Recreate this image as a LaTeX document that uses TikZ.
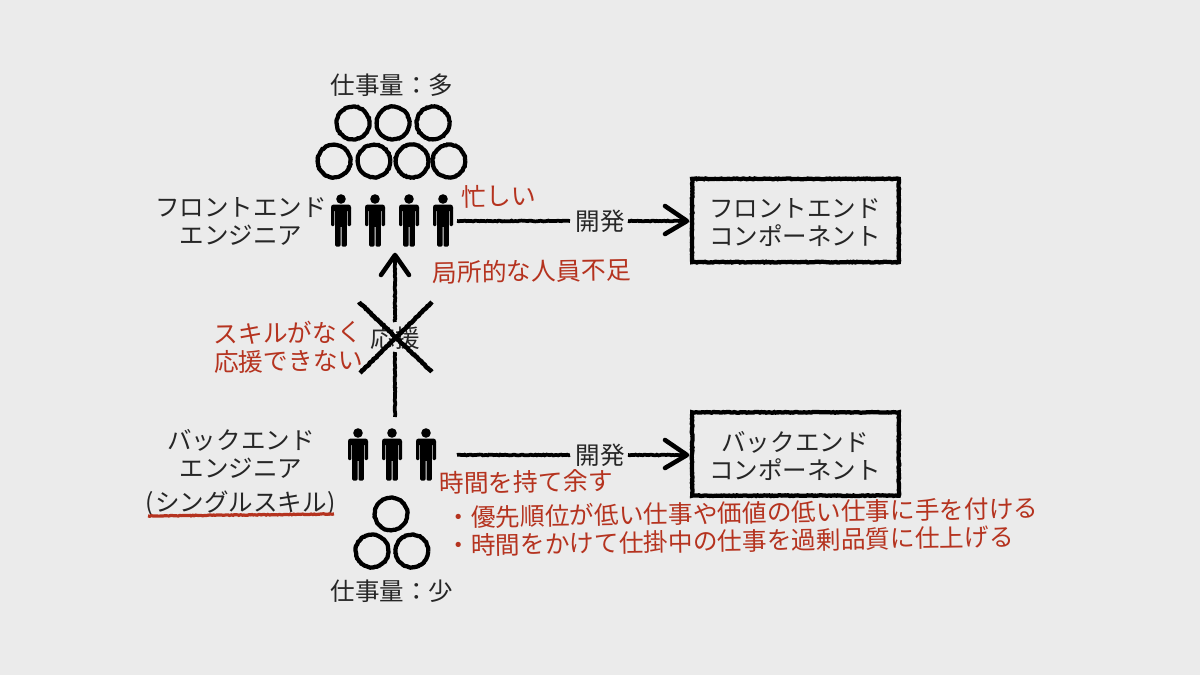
\documentclass[tikz,border=0pt]{standalone}
\usepackage{fontspec}
\newfontfamily\cjk{Noto Sans CJK JP}
\usetikzlibrary{decorations.pathmorphing,calc}
\definecolor{bgc}{HTML}{EBEBEB}
\definecolor{redc}{HTML}{B5331F}
\definecolor{inkc}{HTML}{262626}
\pgfmathsetseed{42}
\tikzset{
  rough/.style={draw=black,line width=2.8pt,decorate,decoration={random steps,segment length=1.2pt,amplitude=0.3pt}},
  smooth stroke/.style={draw=black,line width=3.4pt,line cap=round,line join=round},
  label text/.style={inner sep=0pt,text=inkc,align=center,font=\cjk\fontsize{18.4}{21}\selectfont},
  red text/.style={inner sep=0pt,text=redc,align=center,rotate=1,font=\cjk\fontsize{18.6}{21}\selectfont},
  list text/.style={inner sep=0pt,text=redc,align=left,rotate=0.9,font=\cjk\fontsize{18.5}{21}\selectfont},
  personbox/.style={inner sep=0pt,outer sep=2pt,minimum width=15pt,minimum height=39pt},
  workbox/.style={draw=black,line width=3.2pt,inner sep=0pt,minimum width=155pt,minimum height=62.5pt,
    decorate,decoration={random steps,segment length=1.2pt,amplitude=0.3pt}},
  workcircle/.style={circle,draw=black,line width=3.2pt,inner sep=0pt,minimum size=24.5pt,
    decorate,decoration={random steps,segment length=1.2pt,amplitude=0.3pt}}
}
\newcommand{\drawperson}[3]{%
  \node[personbox] (#1) at (#2,#3) {};
  \begin{scope}[shift={(#2,#3)}]
    \fill (0,-21) circle[radius=4.8];
    \fill[rounded corners=2pt] (-10,-15.5) rectangle (10,-9);
    \fill[rounded corners=0.8pt] (-10,-13) rectangle (-6.6,6);
    \fill[rounded corners=0.8pt] (6.6,-13) rectangle (10,6);
    \fill (-5.8,-13) rectangle (5.8,7);
    \fill[rounded corners=0.8pt] (-5.8,5) rectangle (-0.5,26.5);
    \fill[rounded corners=0.8pt] (0.5,5) rectangle (5.8,26.5);
  \end{scope}}
\begin{document}
\begin{tikzpicture}[x=0.75pt,y=-0.75pt]
\fill[bgc] (0,0) rectangle (1200,675);
\useasboundingbox (0,0) rectangle (1200,675);

% workload circles
\foreach \n/\x/\y in {a/353/123,b/393/123,c/433/123,d/334/161,e/374/161,f/412/161,g/449/161}
  \node[workcircle] (fc\n) at (\x,\y) {};
\foreach \n/\x/\y in {a/391/514,b/372/551,c/412/551}
  \node[workcircle] (bc\n) at (\x,\y) {};

% people
\drawperson{fpa}{341}{220}
\drawperson{fpb}{375}{220}
\drawperson{fpc}{409}{220}
\drawperson{fpd}{443}{220}
\drawperson{bpa}{358}{454}
\drawperson{bpb}{392}{454}
\drawperson{bpc}{426}{454}

% labels
\node[label text] (fload) at (392,85) {仕事量：多};
\node[label text] (bload) at (392,591) {仕事量：少};
\node[label text] (fteam) at (241,221.5) {フロントエンド\\エンジニア};
\node[label text] (bteam) at (241,473) {バックエンド\\エンジニア\\[4pt](\kern0.7pt シングルスキル\kern0.7pt)};

% component boxes
\node[workbox] (fbox) at (795.5,220.5) {};
\node[label text] (ftext) at (795,223) {フロントエンド\\コンポーネント};
\node[workbox] (bbox) at (795.5,454) {};
\node[label text] (btext) at (795,456) {バックエンド\\コンポーネント};

% development arrows
\node[label text] (fdev) at (600,221) {開発};
\node[label text] (bdev) at (600,455) {開発};
\coordinate (fstart) at (457,221);
\coordinate (bstart) at (457,455);
\coordinate (ftip) at (687,221);
\coordinate (btip) at (687,455);
\draw[rough] (fstart) -- (570,221);
\draw[rough] (628,221) -- (ftip);
\draw[smooth stroke] ($(ftip)+(-22,-15)$) -- (ftip) -- ($(ftip)+(-22,13)$);
\draw[rough] (bstart) -- (570,455);
\draw[rough] (628,455) -- (btip);
\draw[smooth stroke] ($(btip)+(-22,-15)$) -- (btip) -- ($(btip)+(-22,13)$);

% support arrow, crossed out
\node[label text] (help) at (395,338) {応援};
\coordinate (hbot) at (395,417);
\coordinate (htop) at (395,255);
\draw[rough] (hbot) -- (help.center |- 0,352);
\draw[rough] (help.center |- 0,322) -- (htop);
\draw[smooth stroke] ($(htop)+(-14,20)$) -- (htop) -- ($(htop)+(14,20)$);
\coordinate (xa) at (359,302);
\coordinate (xb) at (432,372);
\coordinate (xc) at (432,302);
\coordinate (xd) at (360,373);
\draw[rough,line width=3.4pt] (xa) -- (xb);
\draw[rough,line width=3.4pt] (xc) -- (xd);

% red notes
\node[red text] (busy) at (498.5,196) {忙しい};
\node[red text] (short) at (531.5,271) {局所的な人員不足};
\node[red text] (noskill) at (288,347) {スキルがなく\\応援できない};
\node[red text] (idle) at (526,482) {時間を持て余す};
\node[list text,anchor=west] (la) at (446,517.5) {・優先順位が低い仕事や価値の低い仕事に手を付ける};
\node[list text,anchor=west] (lb) at (446,545.5) {・時間をかけて仕掛中の仕事を過剰品質に仕上げる};

% underline
\coordinate (ula) at (148,516);
\coordinate (ulb) at (334,514);
\draw[rough,draw=redc,line width=2.4pt] (ula) -- (ulb);
\end{tikzpicture}
\end{document}
